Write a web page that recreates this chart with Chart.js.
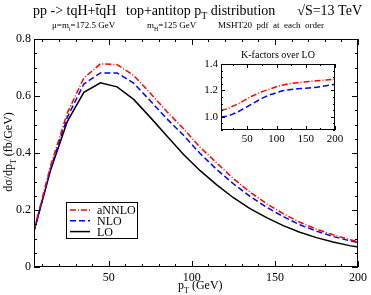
<!DOCTYPE html>
<html>
<head>
<meta charset="utf-8">
<script src="https://cdn.jsdelivr.net/npm/chart.js@4.4.1/dist/chart.umd.min.js"></script>
<style>
  body { margin: 0; background: #fff; }
  #wrap { position: relative; width: 371px; height: 295px; }
  #mainChart { position: absolute; left: 0; top: 0; }
  #kChart { position: absolute; left: 190px; top: 45px; }
</style>
</head>
<body>
<div id="wrap">
  <canvas id="mainChart" width="371" height="295"></canvas>
  <canvas id="kChart" width="160" height="105"></canvas>
</div>
<script>
// pT bin centres (GeV)
const ptValues = [5, 15, 25, 35, 45, 55, 65, 75, 85, 95, 105, 115, 125, 135, 145, 155, 165, 175, 185, 195, 200];

// d sigma / d pT (fb/GeV)
const loValues    = [0.125, 0.34, 0.51, 0.613, 0.646, 0.632, 0.588, 0.525, 0.46, 0.395, 0.338, 0.288, 0.243, 0.205, 0.173, 0.145, 0.122, 0.103, 0.088, 0.075, 0.07];
const nloValues   = [0.125, 0.345, 0.525, 0.642, 0.681, 0.681, 0.645, 0.583, 0.52, 0.462, 0.398, 0.342, 0.292, 0.248, 0.21, 0.177, 0.148, 0.126, 0.107, 0.092, 0.086];
const annloValues = [0.13, 0.355, 0.54, 0.663, 0.713, 0.71, 0.672, 0.61, 0.545, 0.485, 0.42, 0.365, 0.31, 0.263, 0.222, 0.187, 0.157, 0.133, 0.113, 0.096, 0.089];

// K-factors over LO (inset)
const kAnnloValues = [1.05, 1.06, 1.08, 1.10, 1.125, 1.15, 1.17, 1.19, 1.205, 1.22, 1.235, 1.245, 1.252, 1.258, 1.263, 1.267, 1.271, 1.275, 1.279, 1.283, 1.285];
const kNloValues   = [1.0, 1.005, 1.02, 1.04, 1.065, 1.09, 1.115, 1.14, 1.16, 1.175, 1.19, 1.2, 1.207, 1.212, 1.215, 1.218, 1.222, 1.228, 1.235, 1.243, 1.247];

const seriesNames = ["aNNLO", "NLO", "LO"];
const xTickLabels = [50, 100, 150, 200];
const yTickLabels = [0, 0.2, 0.4, 0.6, 0.8];
const kYTickLabels = [1, 1.2, 1.4];

const serif = "'Liberation Serif', 'Times New Roman', serif";

function pts(ys) {
  return ptValues.map((x, i) => ({ x: x, y: ys[i] }));
}

// inward ticks on all four sides
function drawFrameTicks(chart, xMajor, xMinorStep, yMajor, yMinorStep, majLen, minLen) {
  const ctx = chart.ctx;
  const a = chart.chartArea;
  const xs = chart.scales.x, ys = chart.scales.y;
  ctx.save();
  ctx.strokeStyle = "#000";
  ctx.lineWidth = 1;
  ctx.strokeRect(a.left + 0.5, a.top + 0.5, a.right - a.left - 1, a.bottom - a.top - 1);
  ctx.beginPath();
  for (let v = Math.ceil(xs.min / xMinorStep) * xMinorStep; v <= xs.max + 1e-9; v += xMinorStep) {
    const px = Math.round(xs.getPixelForValue(v)) + 0.5;
    const len = xMajor.some(m => Math.abs(m - v) < 1e-6) ? majLen : minLen;
    ctx.moveTo(px, a.bottom); ctx.lineTo(px, a.bottom - len);
    ctx.moveTo(px, a.top); ctx.lineTo(px, a.top + len);
  }
  for (let v = Math.ceil(ys.min / yMinorStep - 1e-6) * yMinorStep; v <= ys.max + 1e-9; v += yMinorStep) {
    const py = Math.round(ys.getPixelForValue(v)) + 0.5;
    const len = yMajor.some(m => Math.abs(m - v) < 1e-6) ? majLen : minLen;
    ctx.moveTo(a.left, py); ctx.lineTo(a.left + len, py);
    ctx.moveTo(a.right, py); ctx.lineTo(a.right - len, py);
  }
  ctx.stroke();
  ctx.restore();
}

// text with a subscript, returns the x after it and restores the main font
function subText(ctx, x, y, main, sub, size) {
  ctx.font = size + "px " + serif;
  ctx.fillText(main, x, y);
  x += ctx.measureText(main).width;
  ctx.font = Math.round(size * 0.7) + "px " + serif;
  ctx.fillText(sub, x, y + size * 0.3);
  x += ctx.measureText(sub).width;
  ctx.font = size + "px " + serif;
  return x;
}

const mainDecor = {
  id: "mainDecor",
  afterDraw(chart) {
    const ctx = chart.ctx;
    drawFrameTicks(chart, xTickLabels, 10, yTickLabels, 0.05, 6, 3);

    ctx.save();
    ctx.fillStyle = "#000";
    ctx.textBaseline = "alphabetic";
    ctx.textAlign = "left";

    // main title
    ctx.font = "14px " + serif;
    let x = 33;
    const t1 = "pp -> tqH+";
    ctx.fillText(t1, x, 15);
    x += ctx.measureText(t1).width;
    const tw = ctx.measureText("t").width;
    ctx.fillText("tqH", x, 15);
    ctx.beginPath();
    ctx.lineWidth = 1;
    ctx.moveTo(x, 4.5); ctx.lineTo(x + tw + 1, 4.5);
    ctx.stroke();
    let e = subText(ctx, 126, 15, "top+antitop p", "T", 14);
    ctx.fillText(" distribution", e, 15);
    ctx.textAlign = "right";
    ctx.fillText("\u221AS=13 TeV", 362, 15);
    ctx.textAlign = "left";

    // sub title
    let sx = subText(ctx, 52, 28, "\u03BC=m", "t", 9);
    ctx.fillText("=172.5 GeV", sx, 28);
    sx = subText(ctx, 147, 28, "m", "H", 9);
    ctx.fillText("=125 GeV", sx, 28);
    ctx.fillText("MSHT20  pdf  at  each  order", 218, 28);

    // axis titles
    e = subText(ctx, 178, 289, "p", "T", 12);
    ctx.fillText(" (GeV)", e, 289);

    ctx.save();
    ctx.translate(12, 152);
    ctx.rotate(-Math.PI / 2);
    ctx.font = "12px " + serif;
    const w1 = ctx.measureText("d\u03C3/dp").width;
    const w3 = ctx.measureText(" (fb/GeV)").width;
    ctx.font = "8px " + serif;
    const w2 = ctx.measureText("T").width;
    e = subText(ctx, -(w1 + w2 + w3) / 2, 0, "d\u03C3/dp", "T", 12);
    ctx.fillText(" (fb/GeV)", e, 0);
    ctx.restore();

    // legend
    const lx = 66, ly = 202, lw = 71, lh = 36;
    ctx.fillStyle = "#fff";
    ctx.fillRect(lx, ly, lw, lh);
    ctx.strokeStyle = "#000";
    ctx.lineWidth = 1;
    ctx.strokeRect(lx + 0.5, ly + 0.5, lw, lh);
    chart.data.datasets.forEach((ds, i) => {
      const yy = ly + 8 + i * 10.8;
      ctx.beginPath();
      ctx.strokeStyle = ds.borderColor;
      ctx.lineWidth = 1.5;
      ctx.setLineDash(ds.borderDash || []);
      ctx.moveTo(lx + 4, yy); ctx.lineTo(lx + 24, yy);
      ctx.stroke();
      ctx.setLineDash([]);
      ctx.fillStyle = "#000";
      ctx.font = "12px " + serif;
      ctx.textBaseline = "middle";
      ctx.fillText(ds.label, lx + 31, yy + 1);
    });
    ctx.restore();
  }
};

const kDecor = {
  id: "kDecor",
  afterDraw(chart) {
    const ctx = chart.ctx;
    const a = chart.chartArea;
    drawFrameTicks(chart, xTickLabels, 25, kYTickLabels, 0.05, 4, 2);
    ctx.save();
    ctx.fillStyle = "#000";
    ctx.font = "10px " + serif;
    ctx.textAlign = "center";
    ctx.fillText("K-factors over LO", (a.left + a.right) / 2, 13);
    ctx.restore();
  }
};

const noGrid = { display: false, drawTicks: false };

new Chart(document.getElementById("mainChart"), {
  type: "line",
  data: {
    datasets: [
      { label: seriesNames[0], data: pts(annloValues), borderColor: "#ff0000", borderDash: [6, 2, 1, 2] },
      { label: seriesNames[1], data: pts(nloValues), borderColor: "#0000ff", borderDash: [6, 3] },
      { label: seriesNames[2], data: pts(loValues), borderColor: "#000000" }
    ]
  },
  options: {
    responsive: false,
    animation: false,
    devicePixelRatio: 1,
    layout: { padding: { top: 39, right: 10, left: 0, bottom: 0 } },
    elements: { point: { radius: 0 }, line: { borderWidth: 1.5, tension: 0 } },
    plugins: { legend: { display: false }, tooltip: { enabled: false } },
    scales: {
      x: {
        type: "linear", min: 5, max: 200,
        grid: noGrid, border: { display: false },
        afterBuildTicks: s => { s.ticks = xTickLabels.map(v => ({ value: v })); },
        afterFit: s => { s.height = 28; },
        ticks: { font: { family: serif, size: 12 }, color: "#000", padding: 4, maxRotation: 0 }
      },
      y: {
        type: "linear", min: 0, max: 0.8,
        grid: noGrid, border: { display: false },
        afterBuildTicks: s => { s.ticks = yTickLabels.map(v => ({ value: v })); },
        afterFit: s => { s.width = 34; },
        ticks: { font: { family: serif, size: 12 }, color: "#000", padding: 3 }
      }
    }
  },
  plugins: [mainDecor]
});

new Chart(document.getElementById("kChart"), {
  type: "line",
  data: {
    datasets: [
      { label: seriesNames[0], data: pts(kAnnloValues), borderColor: "#ff0000", borderDash: [6, 2, 1, 2] },
      { label: seriesNames[1], data: pts(kNloValues), borderColor: "#0000ff", borderDash: [6, 3] }
    ]
  },
  options: {
    responsive: false,
    animation: false,
    devicePixelRatio: 1,
    layout: { padding: { top: 19, right: 15, left: 0, bottom: 0 } },
    elements: { point: { radius: 0 }, line: { borderWidth: 1.5, tension: 0.4, cubicInterpolationMode: "monotone" } },
    plugins: { legend: { display: false }, tooltip: { enabled: false } },
    scales: {
      x: {
        type: "linear", min: 5, max: 200,
        grid: noGrid, border: { display: false },
        afterBuildTicks: s => { s.ticks = xTickLabels.map(v => ({ value: v })); },
        afterFit: s => { s.height = 20; },
        ticks: { font: { family: serif, size: 11 }, color: "#000", padding: 3, maxRotation: 0 }
      },
      y: {
        type: "linear", min: 0.9, max: 1.4,
        grid: noGrid, border: { display: false },
        afterBuildTicks: s => { s.ticks = kYTickLabels.map(v => ({ value: v })); },
        afterFit: s => { s.width = 31; },
        ticks: { font: { family: serif, size: 11 }, color: "#000", padding: 3 }
      }
    }
  },
  plugins: [kDecor]
});
</script>
</body>
</html>
